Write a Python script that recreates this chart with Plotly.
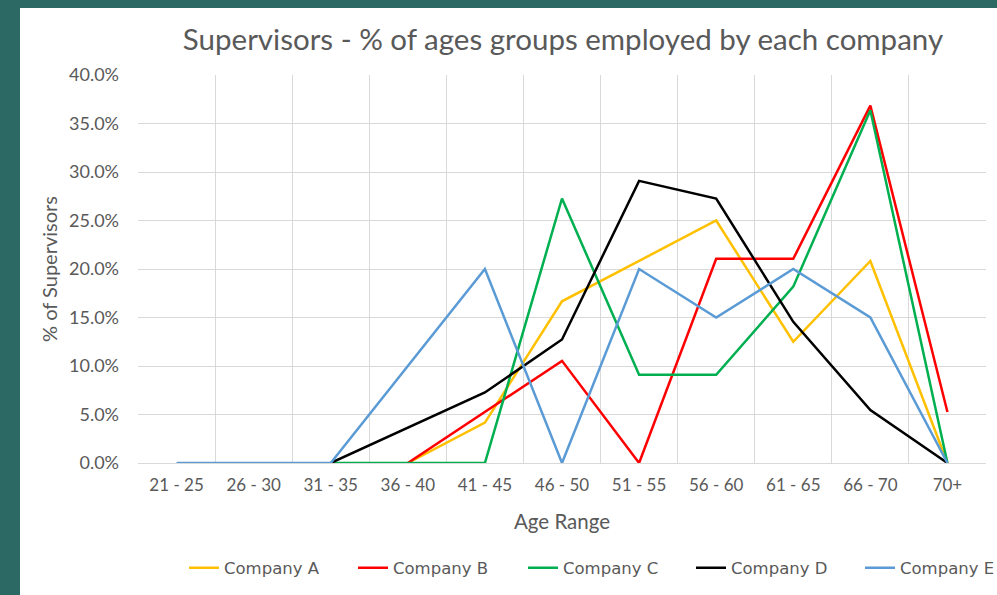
import plotly.graph_objects as go

age_ranges = ["21 - 25", "26 - 30", "31 - 35", "36 - 40", "41 - 45", "46 - 50",
              "51 - 55", "56 - 60", "61 - 65", "66 - 70", "70+"]

company_a = [None, None, None, 0.0, 4.17, 16.67, 20.83, 25.0, 12.5, 20.83, 0.0]
company_b = [None, None, None, 0.0, 5.26, 10.53, 0.0, 21.05, 21.05, 36.84, 5.26]
company_c = [None, None, 0.0, 0.0, 0.0, 27.27, 9.09, 9.09, 18.18, 36.36, 0.0]
company_d = [None, None, 0.0, 3.64, 7.27, 12.73, 29.09, 27.27, 14.55, 5.45, 0.0]
company_e = [0.0, 0.0, 0.0, 10.0, 20.0, 0.0, 20.0, 15.0, 20.0, 15.0, 0.0]

series_names = ["Company A", "Company B", "Company C", "Company D", "Company E"]
series_values = [company_a, company_b, company_c, company_d, company_e]
series_colors = ["#FFC000", "#FF0000", "#00B050", "#000000", "#5B9BD5"]

W, H = 997, 595
L, R, T, B = 138, 11, 75, 132
pw, ph = W - L - R, H - T - B

def px_x(p):
    return (p - L) / pw

def px_y(p):
    return (H - B - p) / ph

# pixel x where each legend entry's text starts
legend_text_x = [224, 393, 563, 731, 900]
legend_ids = ["legend", "legend2", "legend3", "legend4", "legend5"]

gray = "#595959"
font_main = "Lato, Open Sans, sans-serif"

fig = go.Figure()
for name, vals, color, lid in zip(series_names, series_values, series_colors, legend_ids):
    fig.add_trace(go.Scatter(
        x=age_ranges,
        y=[None if v is None else v / 100 for v in vals],
        mode="lines", name=name, legend=lid,
        line=dict(color=color, width=2.5),
        connectgaps=False,
    ))

# white card over teal background
fig.add_shape(type="rect", xref="paper", yref="paper",
              x0=px_x(20), x1=px_x(1000), y0=px_y(600), y1=px_y(8),
              fillcolor="white", line=dict(width=0), layer="below")

legend_layouts = {}
for lid, tx in zip(legend_ids, legend_text_x):
    legend_layouts[lid] = dict(
        orientation="h",
        x=px_x(tx - 40), xanchor="left",
        y=px_y(568), yanchor="middle",
        font=dict(size=16.5, color=gray, family="DejaVu Sans, sans-serif"),
        bgcolor="rgba(0,0,0,0)", borderwidth=0,
    )

fig.update_layout(
    width=W, height=H,
    margin=dict(l=L, r=R, t=T, b=B, autoexpand=False),
    paper_bgcolor="#2c6864",
    plot_bgcolor="white",
    font=dict(family=font_main, color=gray, size=16),
    title=dict(text="Supervisors - % of ages groups employed by each company",
               xref="container", x=563 / W, xanchor="center",
               yref="container", y=1 - 40 / H, yanchor="middle",
               font=dict(size=29.5, color=gray, family=font_main)),
    xaxis=dict(
        type="category", tickson="boundaries", showgrid=True,
        gridcolor="#d9d9d9", gridwidth=1, ticks="", showline=False,
        tickfont=dict(size=17, color=gray), ticklabelstandoff=10,
        title=dict(text="Age Range", font=dict(size=20.5, color=gray), standoff=20),
        range=[-0.5, 10.5],
    ),
    yaxis=dict(
        range=[0, 0.4], dtick=0.05, tickformat=".1%",
        showgrid=True, gridcolor="#d9d9d9", gridwidth=1,
        zeroline=True, zerolinecolor="#d9d9d9", zerolinewidth=1,
        showline=False, ticks="",
        tickfont=dict(size=18, color=gray), ticklabelstandoff=18,
        title=dict(text="% of Supervisors", font=dict(size=20, color=gray), standoff=6),
    ),
    showlegend=True,
    **legend_layouts,
)

fig.write_html("out.html", config={"displayModeBar": False},
               post_script="document.body.style.margin='0';document.body.style.background='#2c6864';")
